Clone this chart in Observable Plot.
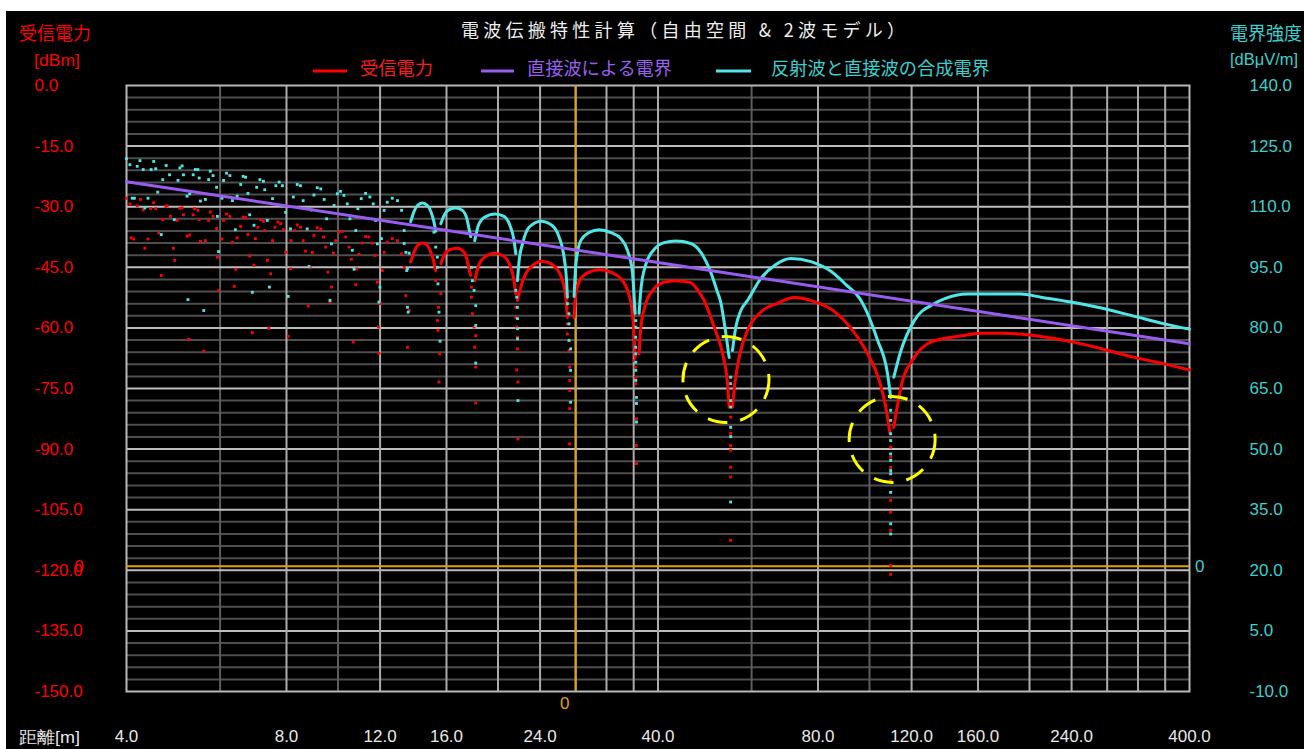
<!DOCTYPE html>
<html><head><meta charset="utf-8">
<script src="https://cdn.jsdelivr.net/npm/d3@7"></script>
<script src="https://cdn.jsdelivr.net/npm/@observablehq/plot@0.6"></script>
<style>
html,body{margin:0;padding:0;background:#fff;width:1304px;height:749px;overflow:hidden;}
#panel{position:absolute;left:6px;top:11px;width:1298px;height:738px;background:#000;}
#chart{position:absolute;left:0;top:0;}
#overlay{position:absolute;left:0;top:0;}
</style></head>
<body>
<div id="panel"></div>
<div id="chart"></div>
<svg id="overlay" width="1304" height="749"></svg>
<script>
// ---- axis ticks ----
const powerTicks = [0, -15, -30, -45, -60, -75, -90, -105, -120, -135, -150];   // dBm (left)
const fieldTicks = [140, 125, 110, 95, 80, 65, 50, 35, 20, 5, -10];              // dBμV/m (right)
const distTicks = [4, 8, 12, 16, 24, 40, 80, 120, 160, 240, 400];                // m
const distGridBright = [8, 12, 16, 20, 24, 28, 32, 36, 40, 80, 120, 160, 200, 240, 280, 320, 360];
const distGridDim = [6, 10, 60, 100];
const powerGridMajor = [-15, -30, -45, -60, -75, -90, -105, -120, -135];
const powerGridMinor = d3.range(-147, 0, 3).filter(v => v % 15 !== 0);
const fieldOffset = 140;            // right axis = left axis + 140
const markerDistance = [28];        // orange vertical cursor [m]
const markerLevel = [-119];         // orange horizontal cursor [dBm]

// ---- received power (dBm), near-field scattered samples [m, dBm] ----
const redScatter = [
[4.00,-27.9],[4.06,-29.3],[4.08,-37.7],[4.13,-38.0],[4.19,-29.8],[4.25,-28.2],[4.30,-30.8],[4.33,-40.3],[4.39,-38.0],[4.44,-30.5],
[4.50,-29.0],[4.54,-30.5],[4.60,-36.5],[4.65,-47.0],[4.68,-33.2],[4.74,-29.9],[4.77,-29.8],[4.84,-32.4],[4.90,-40.3],[4.93,-43.3],
[4.98,-33.4],[5.04,-30.4],[5.09,-30.3],[5.12,-32.0],[5.20,-37.3],[5.24,-62.8],[5.26,-37.0],[5.34,-32.0],[5.37,-30.5],[5.45,-30.9],
[5.48,-33.2],[5.51,-38.6],[5.59,-65.8],[5.63,-38.4],[5.71,-33.4],[5.75,-31.3],[5.82,-32.4],[5.91,-35.4],[5.93,-42.5],[5.96,-50.8],
[6.05,-38.0],[6.09,-33.4],[6.17,-31.8],[6.26,-32.4],[6.33,-38.8],[6.38,-49.7],[6.42,-45.5],[6.46,-37.7],[6.56,-34.9],[6.63,-32.6],
[6.70,-32.7],[6.77,-36.9],[6.82,-42.2],[6.90,-61.2],[6.95,-44.5],[6.99,-37.9],[7.07,-35.1],[7.15,-33.2],[7.24,-33.6],[7.28,-35.9],
[7.36,-43.3],[7.41,-60.1],[7.47,-46.6],[7.53,-38.4],[7.61,-35.1],[7.71,-33.8],[7.80,-34.2],[7.89,-35.7],[7.97,-41.3],[8.06,-62.1],
[8.14,-45.4],[8.16,-38.4],[8.28,-35.9],[8.38,-34.5],[8.50,-35.1],[8.60,-38.4],[8.69,-41.0],[8.79,-54.6],[8.86,-45.1],[8.95,-41.3],
[9.01,-37.1],[9.14,-35.2],[9.28,-35.5],[9.39,-37.5],[9.48,-40.0],[9.57,-46.2],[9.66,-53.6],[9.72,-49.9],[9.80,-41.5],[9.90,-38.4],
[10.04,-36.3],[10.19,-36.1],[10.34,-37.5],[10.49,-40.0],[10.60,-43.0],[10.68,-63.5],[10.80,-49.3],[10.84,-45.4],[10.95,-41.8],[11.11,-39.0],
[11.27,-37.4],[11.43,-37.5],[11.60,-39.0],[11.74,-42.1],[11.86,-48.7],[11.91,-59.8],[11.94,-66.3],[12.03,-54.0],[12.12,-45.8],[12.21,-41.3],
[12.38,-38.8],[12.65,-37.9],[12.94,-38.4],[13.17,-41.7],[13.32,-45.0],[13.42,-52.0],[13.51,-64.8],[13.61,-55.7]
];
// received power: continuous lobes [m, dBm]
const redArcs = [
[[13.70,-43.7],[13.90,-41.3],[14.11,-39.6],[14.42,-39.0],[14.73,-39.6],[14.95,-41.3],[15.15,-43.7],[15.27,-45.8]],
[[15.61,-44.1],[15.83,-42.1],[16.18,-40.7],[16.73,-40.3],[17.14,-40.8],[17.47,-42.9],[17.64,-45.4],[17.77,-47.0]],
[[18.08,-48.3],[18.34,-45.0],[18.83,-42.6],[19.75,-41.5],[20.53,-42.3],[21.07,-44.6],[21.44,-48.3],[21.60,-51.6]],
[[21.76,-53.2],[22.07,-49.9],[22.55,-46.6],[23.22,-44.6],[24.15,-43.5],[25.14,-44.1],[25.88,-45.6],[26.45,-48.3],[26.83,-52.4],[27.02,-57.4]],
[[27.81,-57.4],[28.01,-51.6],[28.62,-47.8],[29.68,-46.2],[31.04,-45.6],[32.61,-46.2],[34.05,-47.8],[35.05,-50.7],[35.82,-56.5],[36.07,-62.3],[36.23,-67.3]],
[[36.86,-66.4],[37.13,-59.8],[37.94,-54.0],[39.33,-50.3],[41.08,-48.7],[43.21,-48.3],[46.11,-48.8],[47.53,-50.7],[48.85,-53.2],[51.01,-59.8],[52.92,-66.4],[54.06,-73.8],[54.44,-79.6]],
[[55.23,-79.6],[55.80,-73.8],[56.84,-67.3],[58.96,-60.6],[62.43,-56.1],[67.14,-53.9],[72.16,-52.5],[78.70,-53.5],[85.82,-55.9],[92.3,-60.1],[99.2,-66.4],[104.3,-73.0],[107.3,-79.6],[109.3,-86.2]],
[[111.1,-84.6],[114.6,-74.7],[121.4,-67.3],[128.6,-63.9],[138.2,-62.6],[150.7,-61.9],[162.1,-61.3],[178.9,-61.3],[198.4,-61.7],[219.4,-62.5],[239.5,-63.4],[268.7,-64.9],[310.5,-67.1],[358.6,-68.9],[400,-70.4]]
];
// received power: sparse samples down into the nulls [m, dBm]
const redTails = [
[15.27,-48.3],[15.61,-51.5],[15.46,-54.9],[15.38,-58.2],[15.42,-60.6],[15.53,-66.4],[15.49,-73.4],
[17.82,-49.9],[17.82,-52.4],[17.90,-56.5],[18.03,-59.8],[18.16,-61.9],[18.08,-64.8],[18.16,-69.7],[18.16,-78.6],
[21.60,-54.9],[21.60,-57.4],[21.69,-59.8],[21.76,-62.3],[21.76,-65.2],[21.69,-70.4],[21.81,-73.4],[21.81,-87.5],
[27.02,-59.0],[27.02,-61.5],[27.20,-63.1],[27.20,-65.6],[27.28,-69.7],[27.28,-73.0],[27.28,-75.5],[27.28,-80.0],[27.28,-88.7],
[36.07,-68.1],[36.23,-69.7],[36.23,-72.2],[36.33,-73.8],[36.44,-78.7],[36.44,-82.5],[36.44,-89.1],[36.44,-93.6],
[54.8,-82.1],[54.8,-84.6],[54.8,-86.1],[54.8,-89.1],[54.8,-90.3],[54.8,-94.5],[54.8,-96.9],[54.8,-112.6],
[109.6,-87.8],[109.6,-89.5],[109.6,-92.0],[109.6,-94.5],[109.6,-96.1],[109.6,-97.8],[109.6,-100.7],[109.6,-102.7],[109.6,-105.6],[109.6,-110.1],[109.6,-118.8],[109.6,-121.0]
];

// ---- combined field (dBμV/m), near-field scattered samples [m, dBμV/m] ----
const cyanScatter = [
[4.00,121.9],[4.06,120.4],[4.10,112.1],[4.14,112.1],[4.19,120.0],[4.24,121.4],[4.30,119.2],[4.33,109.7],[4.39,112.1],[4.45,119.2],
[4.50,121.2],[4.54,119.4],[4.58,113.6],[4.65,103.1],[4.68,116.7],[4.75,120.2],[4.82,117.9],[4.92,106.8],[5.00,116.5],[5.04,119.6],
[5.09,120.1],[5.12,117.9],[5.20,112.6],[5.22,87.0],[5.26,113.2],[5.34,117.9],[5.39,119.2],[5.45,119.2],[5.48,117.1],[5.51,111.4],
[5.59,84.3],[5.63,111.8],[5.71,116.7],[5.75,118.8],[5.82,117.7],[5.91,114.8],[5.93,107.6],[5.96,98.9],[6.05,112.1],[6.09,116.5],
[6.17,118.3],[6.26,117.7],[6.33,111.5],[6.41,104.3],[6.46,112.6],[6.56,115.5],[6.63,117.5],[6.70,117.3],[6.77,113.3],[6.82,108.0],
[6.90,88.8],[6.95,105.4],[7.03,114.8],[7.13,116.7],[7.24,116.3],[7.28,114.2],[7.36,106.6],[7.43,90.1],[7.53,112.0],[7.64,115.2],
[7.75,116.1],[7.86,115.2],[7.97,108.6],[8.06,87.8],[8.14,104.5],[8.24,112.4],[8.38,115.5],[8.50,115.2],[8.60,111.5],[8.75,104.5],
[8.82,95.2],[8.90,109.2],[9.01,112.9],[9.14,114.7],[9.28,114.4],[9.42,111.8],[9.52,107.0],[9.66,86.8],[9.72,100.8],[9.83,110.3],
[9.97,113.2],[10.11,113.8],[10.26,112.8],[10.41,110.7],[10.53,107.0],[10.64,99.2],[10.72,94.5],[10.80,104.1],[10.90,109.5],[11.06,112.0],
[11.27,113.3],[11.48,112.4],[11.65,110.7],[11.77,106.6],[11.86,100.8],[11.94,86.4],[11.99,90.1],[12.07,102.1],[12.21,109.1],[12.38,111.1],
[12.65,112.1],[12.94,111.5],[13.17,109.1],[13.32,104.1],[13.47,94.2],[13.55,83.9],[13.61,98.5]
];
const cyanArcs = [
[[13.70,106.3],[13.90,108.8],[14.11,110.3],[14.42,110.9],[14.73,110.3],[14.95,108.8],[15.15,106.3],[15.27,103.9]],
[[15.61,105.8],[15.83,107.8],[16.18,109.3],[16.66,109.7],[17.14,109.1],[17.47,107.1],[17.64,104.6],[17.77,102.6]],
[[18.08,101.6],[18.34,105.1],[18.83,107.3],[19.75,108.2],[20.53,107.6],[21.07,105.3],[21.44,101.6],[21.60,98.4]],
[[21.76,91.7],[21.92,96.7],[22.24,100.8],[22.88,104.9],[24.08,106.4],[25.32,105.3],[26.06,102.5],[26.63,97.5],[26.92,91.7],[27.02,87.6]],
[[27.81,87.8],[28.01,95.4],[28.62,101.6],[29.68,103.6],[30.99,104.3],[32.61,103.6],[34.05,102.1],[35.05,99.2],[35.82,93.5],[36.07,87.8],[36.23,83.6]],
[[36.86,83.6],[37.13,89.3],[37.94,95.7],[39.33,99.4],[41.08,101.1],[43.21,101.5],[46.11,100.9],[48.15,98.7],[50.30,93.7],[51.61,89.3],[52.5,86.3],[53.67,78.6],[54.44,72.7]],
[[55.23,74.4],[56.04,80.2],[57.26,84.3],[58.96,86.8],[62.43,92.2],[66.65,95.7],[71.1,97.2],[77.6,96.4],[84.6,94.0],[90.3,90.7],[96.4,86.8],[103.6,76.9],[108.1,68.7],[109.6,62.8]],
[[111.1,67.8],[114.6,74.4],[121.4,81.8],[132.3,86.0],[138.2,87.2],[153.0,88.4],[192.6,88.4],[210.2,87.6],[239.5,86.4],[268.7,85.1],[310.5,83.1],[358.6,81.0],[400,79.7]]
];
const cyanTails = [
[13.32,100.9],[13.42,98.7],[13.51,94.7],[13.51,85.1],
[15.15,103.7],[15.27,100.0],[15.38,97.5],[15.38,95.0],[15.42,90.9],[15.49,83.9],[15.56,76.7],
[17.82,95.0],[17.90,91.7],[18.03,89.3],[18.16,85.5],[18.16,80.6],[18.16,71.3],
[21.60,89.3],[21.69,87.6],[21.76,85.1],[21.76,82.3],[21.76,79.8],[21.76,77.3],[21.81,62.0],
[27.02,86.0],[27.20,83.5],[27.20,81.0],[27.20,76.9],[27.39,74.8],[27.39,69.5],[27.39,61.6],
[36.33,81.8],[36.33,80.2],[36.33,77.7],[36.33,75.2],[36.33,73.6],[36.33,71.5],[36.33,69.5],[36.33,67.0],[36.44,62.8],[36.44,61.3],[36.44,56.7],
[54.8,67.8],[54.8,66.2],[54.8,62.0],[54.8,60.4],[54.8,55.4],[54.8,53.1],[54.8,36.9],
[109.6,59.6],[109.6,57.1],[109.6,53.8],[109.6,52.1],[109.6,48.8],[109.6,47.2],[109.6,44.7],[109.6,43.9],[109.6,39.3],[109.6,31.5],[109.6,29.0]
];
// ---- direct-wave field (dBμV/m) ----
const directField = [[4, 116.2], [40, 96.2], [400, 76.1]];
// ---- highlighted nulls (dashed circles) [m, dBm] ----
const highlightNulls = [[53.7, -72.8], [110.3, -87.6]];

// colours
const RED = "#ff0000", CYAN = "#4ee6e6", CYAN_TXT = "#3ccfcf", PURPLE = "#9a5cf0", ORANGE = "#e5a00a";
const NUM_FONT = "'Liberation Sans',Arial,sans-serif";
const NUM_SIZE = 17;

const arcRows = (arcs, off) => arcs.flatMap((a, i) => a.map(([d, v]) => ({d, v: v - off, arc: i})));
const ptRows = (pts, off) => pts.map(([d, v]) => ({d, v: v - off}));

const plot = Plot.plot({
  width: 1304, height: 749,
  marginLeft: 126, marginRight: 115, marginTop: 85, marginBottom: 58,
  x: {type: "log", domain: [4, 400], axis: null},
  y: {domain: [-150, 0], axis: null},
  style: {background: "transparent", overflow: "visible"},
  marks: [
    Plot.ruleY(powerGridMinor, {stroke: "#4e4e4e", strokeWidth: 2}),
    Plot.ruleX(distGridDim, {stroke: "#5c5c5c", strokeWidth: 2}),
    Plot.ruleY(powerGridMajor, {stroke: "#bcbcbc", strokeWidth: 2}),
    Plot.ruleX(distGridBright, {stroke: "#ababab", strokeWidth: 2}),
    Plot.frame({stroke: "#b8b8b8", strokeWidth: 2}),
    Plot.ruleX(markerDistance, {stroke: ORANGE, strokeWidth: 2}),
    Plot.ruleY(markerLevel, {stroke: ORANGE, strokeWidth: 2}),
    // received power
    Plot.dot(ptRows(redScatter, 0), {x: "d", y: "v", symbol: "square", r: 1.6, fill: RED}),
    Plot.dot(ptRows(redTails, 0), {x: "d", y: "v", symbol: "square", r: 1.6, fill: RED}),
    Plot.line(arcRows(redArcs, 0), {x: "d", y: "v", z: "arc", stroke: RED, strokeWidth: 3, curve: "monotone-x"}),
    // combined field
    Plot.dot(ptRows(cyanScatter, fieldOffset), {x: "d", y: "v", symbol: "square", r: 1.6, fill: CYAN}),
    Plot.dot(ptRows(cyanTails, fieldOffset), {x: "d", y: "v", symbol: "square", r: 1.6, fill: CYAN}),
    Plot.line(arcRows(cyanArcs, fieldOffset), {x: "d", y: "v", z: "arc", stroke: CYAN, strokeWidth: 3, curve: "monotone-x"}),
    // direct field
    Plot.line(ptRows(directField, fieldOffset), {x: "d", y: "v", stroke: PURPLE, strokeWidth: 3}),
    // dashed highlight circles
    Plot.dot(highlightNulls, {x: d => d[0], y: d => d[1], r: 43, stroke: "#ffff00", strokeWidth: 3, strokeDasharray: "20,13", fill: "none"}),
    // axis labels
    Plot.text(powerTicks, {y: d => d, text: d => d.toFixed(1), frameAnchor: "left", dx: -92, textAnchor: "start",
      fill: RED, fontSize: NUM_SIZE, fontFamily: NUM_FONT}),
    Plot.text(fieldTicks, {y: d => d - fieldOffset, text: d => d.toFixed(1), frameAnchor: "right", dx: 60, textAnchor: "start",
      fill: CYAN_TXT, fontSize: NUM_SIZE, fontFamily: NUM_FONT}),
    Plot.text(distTicks, {x: d => d, text: d => d.toFixed(1), frameAnchor: "bottom", dy: 50,
      fill: "#e8e8e8", fontSize: NUM_SIZE, fontFamily: NUM_FONT}),
    // cursor value labels
    Plot.text(markerDistance, {x: d => d, text: () => "0", frameAnchor: "bottom", dy: 17, dx: -11, fill: ORANGE, fontSize: NUM_SIZE, fontFamily: NUM_FONT}),
    Plot.text(markerLevel, {y: d => d, text: () => "0", frameAnchor: "right", dx: 15, fill: CYAN_TXT, fontSize: NUM_SIZE, fontFamily: NUM_FONT}),
    Plot.text(markerLevel, {y: d => d, text: () => "0", frameAnchor: "left", dx: -52, textAnchor: "start", fill: RED, fontSize: NUM_SIZE, fontFamily: NUM_FONT})
  ]
});
document.getElementById("chart").appendChild(plot);

// overlay texts: titles and legend
const ov = d3.select("#overlay");
const CJK = "'Noto Sans CJK JP',sans-serif";
function txt(x, y, s, fill, opts = {}) {
  const t = ov.append("text").attr("x", x).attr("y", y).attr("fill", fill)
    .attr("dominant-baseline", "central")
    .attr("font-family", opts.font || CJK).attr("font-size", opts.size || 18).text(s);
  if (opts.len) t.attr("textLength", opts.len).attr("lengthAdjust", opts.adjust || "spacingAndGlyphs");
  return t;
}
txt(461, 29, "電波伝搬特性計算（自由空間 & 2波モデル）", "#eeeeee", {len: 444, adjust: "spacing"});
txt(19, 32, "受信電力", RED, {len: 72});
txt(34, 60, "[dBm]", RED, {font: NUM_FONT, size: NUM_SIZE, len: 46});
txt(1230, 32, "電界強度", CYAN_TXT, {len: 72});
txt(1230, 59, "[dBμV/m]", CYAN_TXT, {font: NUM_FONT, size: NUM_SIZE, len: 68});
txt(19, 737, "距離[m]", "#e8e8e8", {font: NUM_FONT, size: 17, len: 61});
const legend = [
  {x0: 313, x1: 347, tx: 360, label: "受信電力", color: RED, tcolor: "#ff1a1a", len: 73},
  {x0: 481, x1: 514, tx: 527, label: "直接波による電界", color: PURPLE, tcolor: "#9b5ff0", len: 145},
  {x0: 716, x1: 751, tx: 771, label: "反射波と直接波の合成電界", color: CYAN, tcolor: CYAN_TXT, len: 219}
];
for (const l of legend) {
  ov.append("line").attr("x1", l.x0).attr("x2", l.x1).attr("y1", 71).attr("y2", 71)
    .attr("stroke", l.color).attr("stroke-width", 3);
  txt(l.tx, 67, l.label, l.tcolor, {len: l.len});
}
</script>
</body></html>
